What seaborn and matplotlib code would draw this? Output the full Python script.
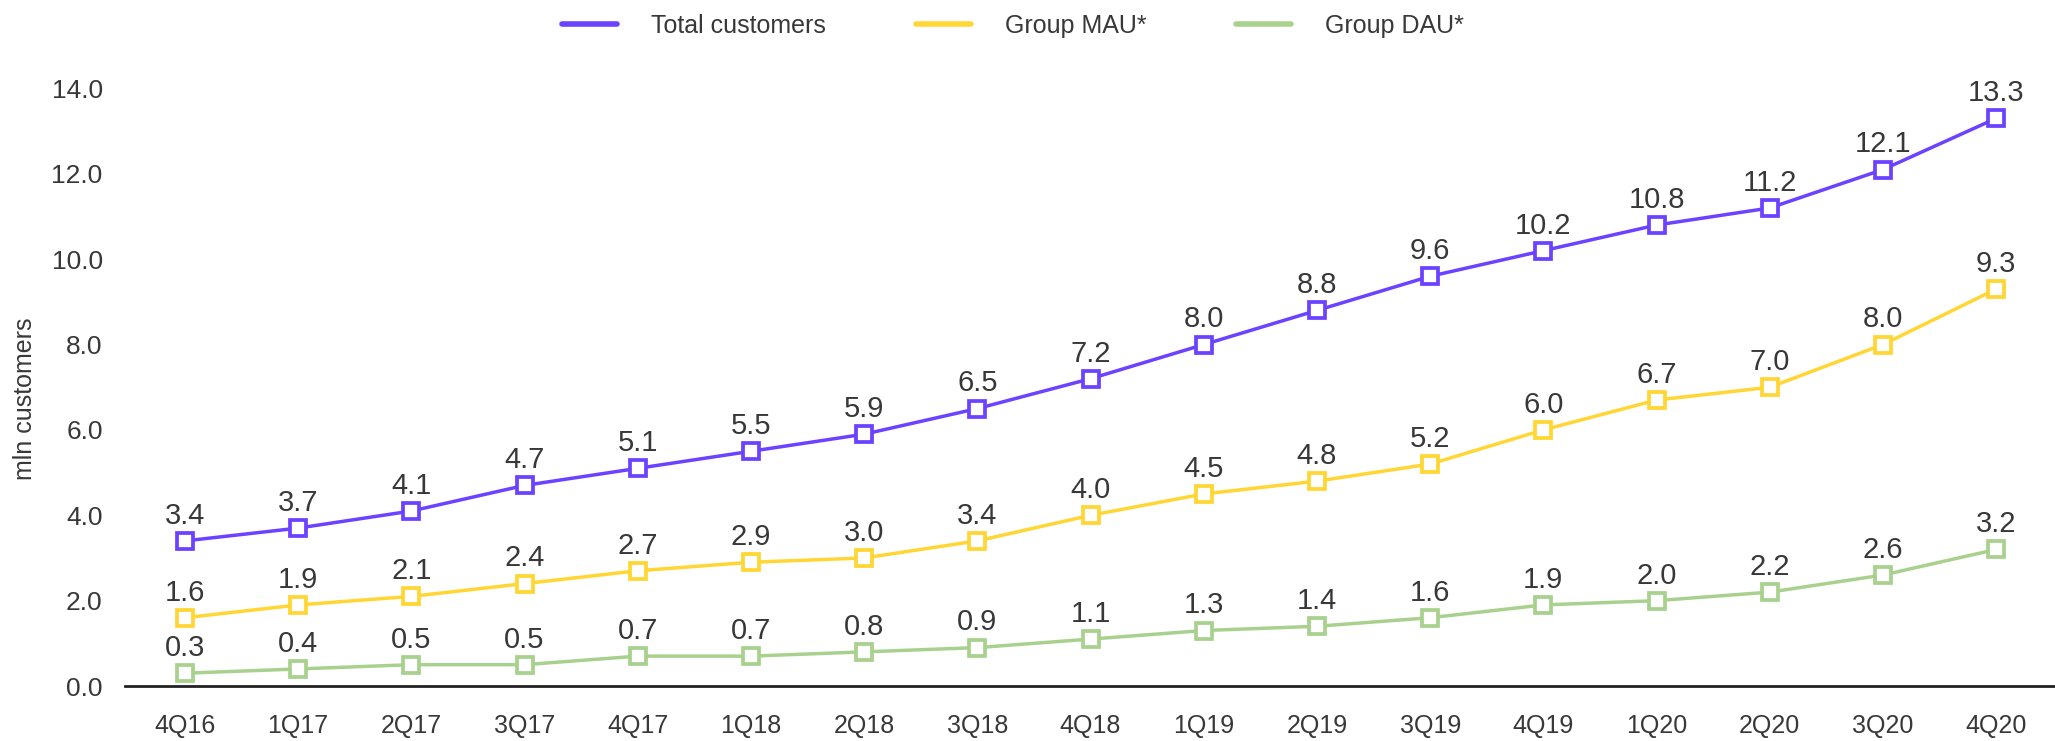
import numpy as np
import pandas as pd
import matplotlib
matplotlib.use("Agg")
import matplotlib.pyplot as plt
import seaborn as sns
from matplotlib.lines import Line2D

quarters = ["4Q16", "1Q17", "2Q17", "3Q17", "4Q17", "1Q18", "2Q18", "3Q18", "4Q18",
            "1Q19", "2Q19", "3Q19", "4Q19", "1Q20", "2Q20", "3Q20", "4Q20"]
total_customers = [3.4, 3.7, 4.1, 4.7, 5.1, 5.5, 5.9, 6.5, 7.2, 8.0, 8.8, 9.6,
                   10.2, 10.8, 11.2, 12.1, 13.3]
group_mau = [1.6, 1.9, 2.1, 2.4, 2.7, 2.9, 3.0, 3.4, 4.0, 4.5, 4.8, 5.2,
             6.0, 6.7, 7.0, 8.0, 9.3]
group_dau = [0.3, 0.4, 0.5, 0.5, 0.7, 0.7, 0.8, 0.9, 1.1, 1.3, 1.4, 1.6,
             1.9, 2.0, 2.2, 2.6, 3.2]
series_names = ["Total customers", "Group MAU*", "Group DAU*"]
colors = ["#6B42FF", "#FFD633", "#A9D18E"]

sns.set_style("white")
plt.rcParams['font.family'] = ['Liberation Sans', 'DejaVu Sans']

fig = plt.figure(figsize=(20.55, 7.41), dpi=100)
ax = fig.add_axes([0.0608, 0.0742, 0.9392, 0.864])

text_color = "#383838"
for name, values, c in zip(series_names, [total_customers, group_mau, group_dau], colors):
    sns.lineplot(x=quarters, y=values, ax=ax, color=c, lw=2.5, marker='s',
                 markersize=12, markerfacecolor='white', markeredgecolor=c,
                 markeredgewidth=2.7, sort=False)
    for i, v in enumerate(values):
        ax.annotate(f"{v:.1f}", (i, v), xytext=(0, 8), textcoords='offset points',
                    ha='center', va='bottom', fontsize=21, color=text_color)

ax.set_xlim(-0.53, 16.52)
ax.set_ylim(0, 15)
ax.set_yticks(np.arange(0, 15, 2))
ax.set_yticklabels([f"{t:.1f}" for t in np.arange(0, 15, 2)])
ax.tick_params(axis='x', length=0, pad=20, labelsize=18, labelcolor=text_color)
ax.tick_params(axis='y', length=0, pad=16, labelsize=19, labelcolor=text_color)
ax.set_ylabel("mln customers", fontsize=18, color=text_color)
ax.yaxis.set_label_coords(-0.0456, 0.448)

for side in ['top', 'right', 'left']:
    ax.spines[side].set_visible(False)
ax.spines['bottom'].set_color('#222222')
ax.spines['bottom'].set_linewidth(2)

handles = [Line2D([0], [0], color=c, lw=4) for c in colors]
fig.legend(handles, series_names, loc='center', bbox_to_anchor=(0.493, 0.965),
           ncol=3, frameon=False, fontsize=18, handlelength=2.2,
           handletextpad=1.35, columnspacing=3.6, labelcolor=text_color)

fig.savefig("out.png", dpi=100)
